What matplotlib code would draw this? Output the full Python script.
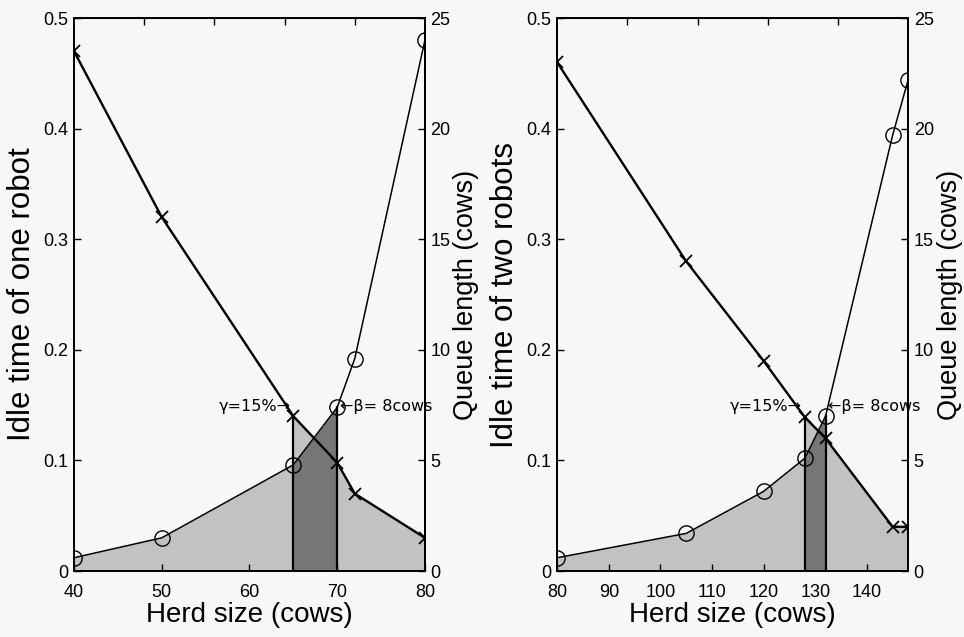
import matplotlib
matplotlib.use("Agg")
import matplotlib.pyplot as plt
import numpy as np

plt.rcParams['font.family'] = ['Liberation Sans', 'DejaVu Sans']

# ===== DATA =====
herd_one = [40, 50, 65, 70, 72, 80]
idle_one = [0.47, 0.32, 0.14, 0.098, 0.07, 0.03]
queue_one = [0.6, 1.5, 4.8, 7.4, 9.6, 24.0]

herd_two = [80, 105, 120, 128, 132, 145, 148]
idle_two = [0.46, 0.28, 0.19, 0.139, 0.12, 0.04, 0.04]
queue_two = [0.6, 1.7, 3.6, 5.1, 7.0, 19.7, 22.2]

gamma_lbl = "γ=15%→"
beta_lbl = "←β= 8cows"

LIGHT = "#c2c2c2"
DARK = "#767676"
BG = "#f7f7f7"


def panel(ax, x, idle, queue, xlim, xticks, v1, v2, ylabel):
    x = np.array(x, float)
    idle = np.array(idle, float)
    q = np.array(queue, float) / 50.0  # queue in idle units (25 cows <-> 0.5)

    i1 = int(np.where(x == v1)[0][0])
    i2 = int(np.where(x == v2)[0][0])

    # light area: under queue up to v1, under idle from v1
    px = list(x[:i1 + 1]) + list(x[i1:])
    py = list(q[:i1 + 1]) + list(idle[i1:])
    ax.fill_between(px, py, 0, color=LIGHT, lw=0, zorder=1)
    # dark area between v1 and v2 under queue
    ax.fill_between(x[i1:i2 + 1], q[i1:i2 + 1], 0, color=DARK, lw=0, zorder=2)

    ax.plot([v1, v1], [0, idle[i1]], color="black", lw=1.6, zorder=3)
    ax.plot([v2, v2], [0, q[i2]], color="black", lw=1.6, zorder=3)

    ax.plot(x, idle, color="black", lw=1.7, marker="x", ms=8, mew=1.3, zorder=4)

    ax.set_xlim(xlim)
    ax.set_ylim(0, 0.5)
    ax.set_xticks(xticks)
    ax.set_yticks([0, 0.1, 0.2, 0.3, 0.4, 0.5])
    ax.set_yticklabels(["0", "0.1", "0.2", "0.3", "0.4", "0.5"])
    ax.tick_params(direction="in", length=5, width=1, labelsize=13, pad=4,
                   top=False, right=False)
    ax.tick_params(axis="x", pad=9)
    ax.set_xlabel("Herd size (cows)", fontsize=20, labelpad=1)
    ax.set_ylabel(ylabel, fontsize=22.5, labelpad=5)
    ax.set_facecolor(BG)
    for s in ax.spines.values():
        s.set_linewidth(1.3)

    ax.text(v1 - 0.008 * (xlim[1] - xlim[0]), 0.149, gamma_lbl, ha="right",
            va="center", fontsize=11.5, family=["DejaVu Sans"], zorder=5)
    ax.text(v2 + 0.008 * (xlim[1] - xlim[0]), 0.149, beta_lbl, ha="left",
            va="center", fontsize=11.5, family=["DejaVu Sans"], zorder=5)

    # top ticks of the second axis system
    top = ax.secondary_xaxis("top")
    span = xlim[1] - xlim[0]
    top.set_xticks([xlim[0] + f * span for f in (0.2, 0.4, 0.6, 0.8)])
    top.tick_params(direction="in", length=5, width=1, labeltop=False)

    ax2 = ax.twinx()
    ax2.plot(x, queue, color="black", lw=1.1, marker="o", ms=11, mfc="none",
             mew=1.0, zorder=4)
    ax2.set_ylim(0, 25)
    ax2.set_yticks([0, 5, 10, 15, 20, 25])
    ax2.tick_params(direction="in", length=5, width=1, labelsize=13, pad=4)
    ax2.set_ylabel("Queue length (cows)", fontsize=19.5, labelpad=2)
    for s in ax2.spines.values():
        s.set_linewidth(1.3)
    return ax2


fig = plt.figure(figsize=(9.64, 6.37), dpi=100, facecolor=BG)
ax_l = fig.add_axes([0.0768, 0.1036, 0.364, 0.868])
ax_r = fig.add_axes([0.578, 0.1036, 0.364, 0.868])

panel(ax_l, herd_one, idle_one, queue_one, (40, 80), [40, 50, 60, 70, 80],
      65, 70, "Idle time of one robot")
panel(ax_r, herd_two, idle_two, queue_two, (80, 148),
      [80, 90, 100, 110, 120, 130, 140], 128, 132, "Idle time of two robots")

fig.savefig("out.png", dpi=100, facecolor=BG)
